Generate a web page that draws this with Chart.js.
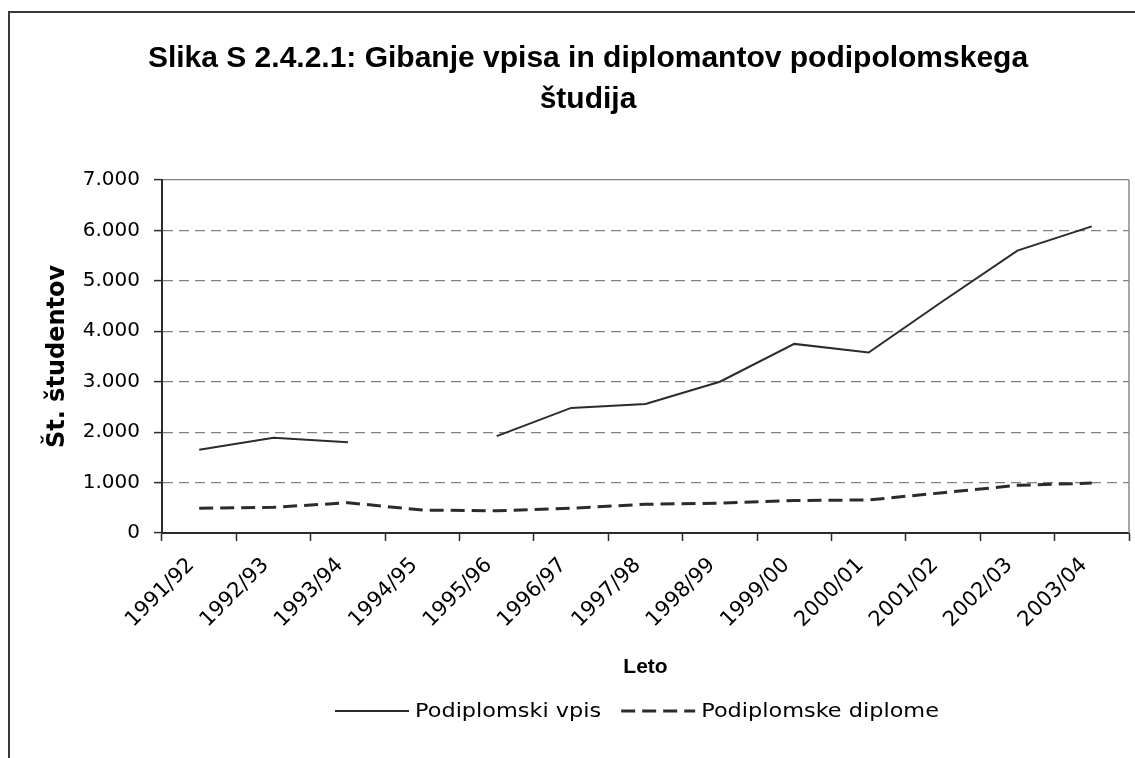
<!DOCTYPE html>
<html>
<head>
<meta charset="utf-8">
<script src="https://cdn.jsdelivr.net/npm/chart.js@4.4.1/dist/chart.umd.min.js"></script>
<style>
  html, body { margin: 0; padding: 0; background: #fff; overflow: hidden; }
  #wrap { position: relative; width: 1135px; height: 758px; overflow: hidden; }
  #frame { position: absolute; left: 8px; top: 11px; width: 1300px; height: 900px; border: 2px solid #3a3a3a; }
  canvas { position: absolute; left: 0; top: 0; }
</style>
</head>
<body>
<div id="wrap">
  <div id="frame"></div>
  <canvas id="chart" width="1135" height="758"></canvas>
</div>
<script>
const titleLines = ['Slika S 2.4.2.1: Gibanje vpisa in diplomantov podipolomskega', 'študija'];
const years = ['1991/92', '1992/93', '1993/94', '1994/95', '1995/96', '1996/97', '1997/98',
  '1998/99', '1999/00', '2000/01', '2001/02', '2002/03', '2003/04'];
const vpis = [1650, 1890, 1800, null, 1920, 2480, 2560, 3000, 3750, 3580, 4600, 5600, 6080];
const diplome = [490, 510, 600, 455, 440, 490, 570, 590, 645, 655, 800, 945, 990];
const yTickLabels = ['0', '1.000', '2.000', '3.000', '4.000', '5.000', '6.000', '7.000'];

const ink = '#2b2b2b';
const yTickFont = { family: '"DejaVu Sans", sans-serif', size: 20 };
const xTickFont = { family: '"DejaVu Sans", sans-serif', size: 21 };

// title, legend and right edge of the plot frame
const decor = {
  id: 'decor',
  afterDraw(chart) {
    const { ctx, chartArea: a } = chart;
    ctx.save();
    ctx.strokeStyle = '#8a8a8a';
    ctx.lineWidth = 1.5;
    ctx.beginPath();
    ctx.moveTo(a.right, a.top);
    ctx.lineTo(a.right, a.bottom);
    ctx.stroke();

    ctx.fillStyle = '#000';
    ctx.textAlign = 'center';
    ctx.textBaseline = 'alphabetic';
    ctx.font = 'bold 30px "Liberation Sans", Arial, sans-serif';
    titleLines.forEach((t, i) => ctx.fillText(t, 588, 67 + i * 41));

    // legend: line sample then label, text a little widened like the original
    const ly = 711;
    const stretch = 1.12;
    let x = 335;
    ctx.font = '20px "DejaVu Sans", sans-serif';
    ctx.textAlign = 'left';
    ctx.textBaseline = 'middle';
    chart.data.datasets.forEach((ds) => {
      ctx.strokeStyle = ds.borderColor;
      ctx.lineWidth = ds.borderWidth;
      ctx.setLineDash(ds.borderDash || []);
      ctx.beginPath();
      ctx.moveTo(x, ly);
      ctx.lineTo(x + 74, ly);
      ctx.stroke();
      ctx.setLineDash([]);
      x += 80;
      ctx.save();
      ctx.translate(x, ly + 1);
      ctx.scale(stretch, 1);
      ctx.fillText(ds.label, 0, 0);
      ctx.restore();
      x += ctx.measureText(ds.label).width * stretch + 20;
    });
    ctx.restore();
  }
};

new Chart(document.getElementById('chart'), {
  type: 'line',
  data: {
    labels: years,
    datasets: [
      { label: 'Podiplomski vpis', data: vpis, borderColor: ink, borderWidth: 2, pointRadius: 0, tension: 0, spanGaps: false },
      { label: 'Podiplomske diplome', data: diplome, borderColor: ink, borderWidth: 3, borderDash: [14, 7], pointRadius: 0, tension: 0 }
    ]
  },
  options: {
    responsive: false,
    animation: false,
    events: [],
    layout: { padding: { top: 180, left: 20, right: 6, bottom: 68 } },
    plugins: { legend: { display: false }, title: { display: false }, tooltip: { enabled: false } },
    scales: {
      x: {
        offset: true,
        grid: { offset: true, drawOnChartArea: false, drawTicks: true, tickLength: 8, tickColor: ink, tickWidth: 1.5 },
        border: { color: ink, width: 2 },
        ticks: { autoSkip: false, minRotation: 45, maxRotation: 45, labelOffset: -8, padding: 12, color: '#000', font: xTickFont },
        title: { display: true, text: 'Leto', color: '#000', padding: { top: 0, bottom: 10 },
          font: { family: '"Liberation Sans", Arial, sans-serif', size: 21, weight: 'bold' } },
        afterFit: (s) => { s.height = 758 - 68 - 533; }
      },
      y: {
        min: 0,
        max: 7000,
        grid: {
          color: '#808080',
          lineWidth: 1.2,
          drawTicks: true,
          tickLength: 8,
          tickColor: ink,
          tickWidth: 1.5,
          tickBorderDash: []
        },
        border: {
          color: ink,
          width: 2,
          dash: (c) => (c.tick && (c.tick.value === 0 || c.tick.value === 7000)) ? [] : [10, 6]
        },
        ticks: { stepSize: 1000, padding: 14, color: '#000', font: yTickFont,
          callback: (v, i) => yTickLabels[i] },
        title: { display: true, text: 'Št. študentov', color: '#000', padding: { top: 23, bottom: 0 },
          font: { family: '"DejaVu Sans", sans-serif', size: 24, weight: 'bold' } },
        afterFit: (s) => { s.width = 142; }
      }
    }
  },
  plugins: [decor]
});
</script>
</body>
</html>
